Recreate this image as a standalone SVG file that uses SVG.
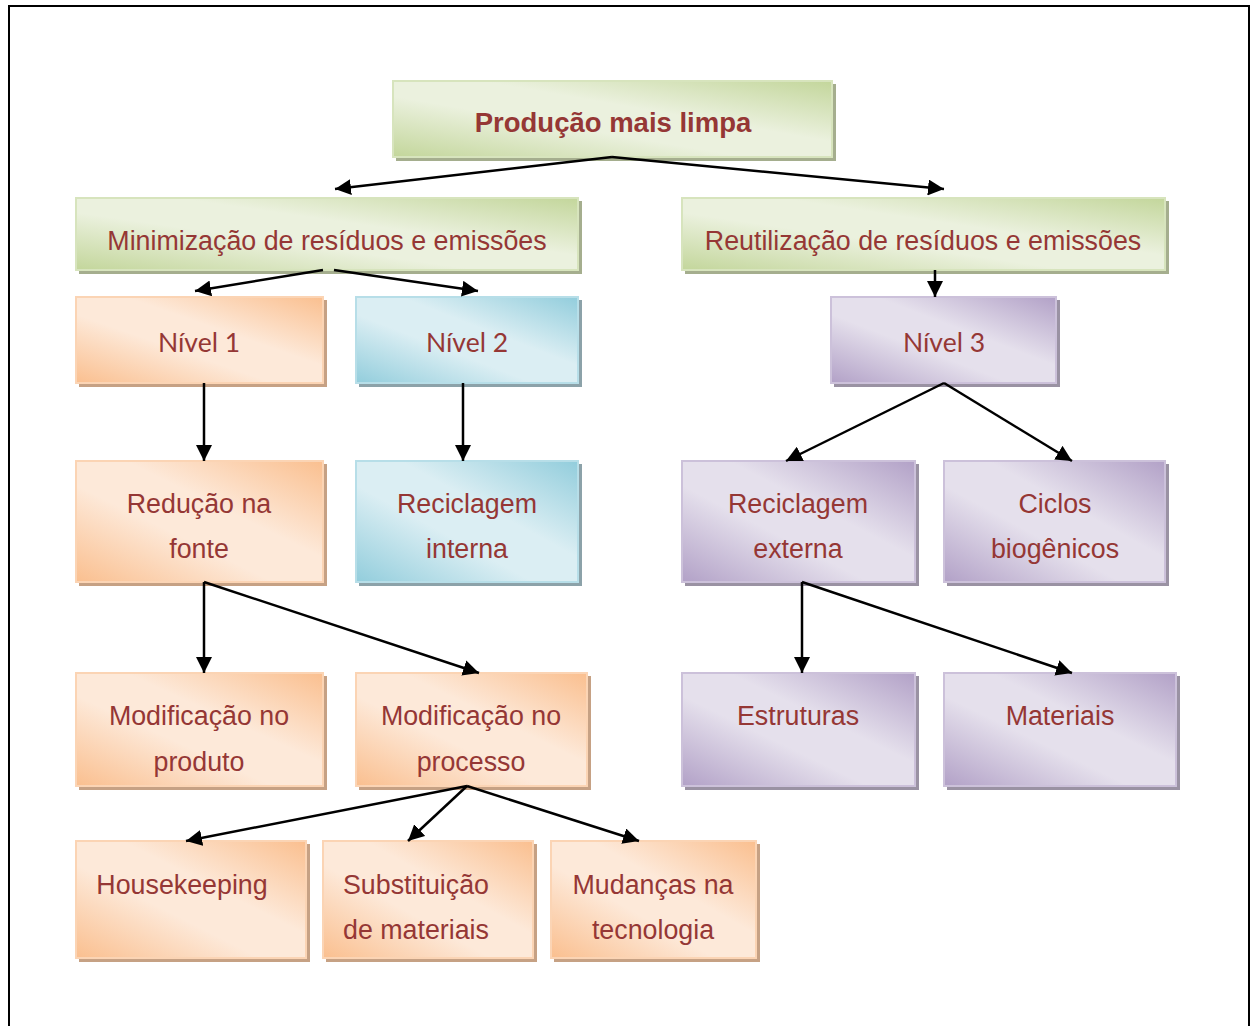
<svg xmlns="http://www.w3.org/2000/svg" width="1251" height="1026" viewBox="0 0 1251 1026">
  <defs>
    <linearGradient id="gGreen" x1="1" y1="0" x2="0" y2="1">
      <stop offset="0" stop-color="#c3d69b"/>
      <stop offset="0.4" stop-color="#ebf1de"/>
      <stop offset="0.6" stop-color="#ebf1de"/>
      <stop offset="1" stop-color="#c3d69b"/>
    </linearGradient>
    <linearGradient id="gOrange" x1="1" y1="0" x2="0" y2="1">
      <stop offset="0" stop-color="#fabf8f"/>
      <stop offset="0.4" stop-color="#fde9d9"/>
      <stop offset="0.6" stop-color="#fde9d9"/>
      <stop offset="1" stop-color="#fabf8f"/>
    </linearGradient>
    <linearGradient id="gBlue" x1="1" y1="0" x2="0" y2="1">
      <stop offset="0" stop-color="#92cddc"/>
      <stop offset="0.4" stop-color="#dbeef3"/>
      <stop offset="0.6" stop-color="#dbeef3"/>
      <stop offset="1" stop-color="#92cddc"/>
    </linearGradient>
    <linearGradient id="gPurple" x1="1" y1="0" x2="0" y2="1">
      <stop offset="0" stop-color="#b2a1c7"/>
      <stop offset="0.4" stop-color="#e5e0ec"/>
      <stop offset="0.6" stop-color="#e5e0ec"/>
      <stop offset="1" stop-color="#b2a1c7"/>
    </linearGradient>
    <marker id="arrow" viewBox="0 0 16 16" refX="16" refY="8" markerWidth="16" markerHeight="16" markerUnits="userSpaceOnUse" orient="auto">
      <path d="M0,0 L16,8 L0,16 Z" fill="#000"/>
    </marker>
  </defs>
  <style>
    .t { font-family: "Liberation Sans", Arial, sans-serif; font-size: 26.8px; fill: #953735; text-anchor: middle; }
    .c { font-family: Lato, "Noto Sans", sans-serif; font-size: 26.5px; fill: #953735; text-anchor: middle; }
    .b { font-weight: bold; font-size: 27.5px; }
    .green .box { fill: url(#gGreen); stroke: #d7e4bd; }
    .green .sh { fill: #a5ae8e; }
    .orange .box { fill: url(#gOrange); stroke: #fbd4b4; }
    .orange .sh { fill: #c6a184; }
    .blue .box { fill: url(#gBlue); stroke: #b7dee8; }
    .blue .sh { fill: #8ca2a9; }
    .purple .box { fill: url(#gPurple); stroke: #ccc1da; }
    .purple .sh { fill: #9a92a3; }
    .box { stroke-width: 2; }
    .link { stroke: #000; stroke-width: 2.5; fill: none; marker-end: url(#arrow); }
  </style>

  <rect width="1251" height="1026" fill="#fff"/>
  <!-- page frame -->
  <path d="M9,1026 V6 H1249 V1026" fill="none" stroke="#000" stroke-width="2"/>

  <g id="producao" class="green">
    <rect class="sh" x="396" y="84" width="440" height="77"/>
    <rect class="box" x="393" y="81" width="439" height="76"/>
    <text class="t b" x="613" y="132">Produção mais limpa</text>
  </g>

  <g id="minimizacao" class="green">
    <rect class="sh" x="79" y="201" width="503" height="73"/>
    <rect class="box" x="76" y="198" width="502" height="72"/>
    <text class="t" x="327" y="250">Minimização de resíduos e emissões</text>
  </g>

  <g id="reutilizacao" class="green">
    <rect class="sh" x="685" y="201" width="484" height="73"/>
    <rect class="box" x="682" y="198" width="483" height="72"/>
    <text class="t" x="923" y="250">Reutilização de resíduos e emissões</text>
  </g>

  <g id="nivel1" class="orange">
    <rect class="sh" x="79" y="300" width="248" height="87"/>
    <rect class="box" x="76" y="297" width="247" height="86"/>
    <text class="c" x="199" y="352">Nível 1</text>
  </g>

  <g id="nivel2" class="blue">
    <rect class="sh" x="359" y="300" width="223" height="87"/>
    <rect class="box" x="356" y="297" width="222" height="86"/>
    <text class="c" x="467" y="352">Nível 2</text>
  </g>

  <g id="nivel3" class="purple">
    <rect class="sh" x="834" y="300" width="226" height="87"/>
    <rect class="box" x="831" y="297" width="225" height="86"/>
    <text class="c" x="944" y="352">Nível 3</text>
  </g>

  <g id="reducao" class="orange">
    <rect class="sh" x="79" y="464" width="248" height="122"/>
    <rect class="box" x="76" y="461" width="247" height="121"/>
    <text class="t" x="199" y="513">Redução na</text>
    <text class="t" x="199" y="558">fonte</text>
  </g>

  <g id="reciclagem-interna" class="blue">
    <rect class="sh" x="359" y="464" width="223" height="122"/>
    <rect class="box" x="356" y="461" width="222" height="121"/>
    <text class="t" x="467" y="513">Reciclagem</text>
    <text class="t" x="467" y="558">interna</text>
  </g>

  <g id="reciclagem-externa" class="purple">
    <rect class="sh" x="685" y="464" width="234" height="122"/>
    <rect class="box" x="682" y="461" width="233" height="121"/>
    <text class="t" x="798" y="513">Reciclagem</text>
    <text class="t" x="798" y="558">externa</text>
  </g>

  <g id="ciclos" class="purple">
    <rect class="sh" x="947" y="464" width="222" height="122"/>
    <rect class="box" x="944" y="461" width="221" height="121"/>
    <text class="t" x="1055" y="513">Ciclos</text>
    <text class="t" x="1055" y="558">biogênicos</text>
  </g>

  <g id="mod-produto" class="orange">
    <rect class="sh" x="79" y="676" width="248" height="114"/>
    <rect class="box" x="76" y="673" width="247" height="113"/>
    <text class="t" x="199" y="725">Modificação no</text>
    <text class="t" x="199" y="771">produto</text>
  </g>

  <g id="mod-processo" class="orange">
    <rect class="sh" x="359" y="676" width="232" height="114"/>
    <rect class="box" x="356" y="673" width="231" height="113"/>
    <text class="t" x="471" y="725">Modificação no</text>
    <text class="t" x="471" y="771">processo</text>
  </g>

  <g id="estruturas" class="purple">
    <rect class="sh" x="685" y="676" width="234" height="114"/>
    <rect class="box" x="682" y="673" width="233" height="113"/>
    <text class="t" x="798" y="725">Estruturas</text>
  </g>

  <g id="materiais" class="purple">
    <rect class="sh" x="947" y="676" width="233" height="114"/>
    <rect class="box" x="944" y="673" width="232" height="113"/>
    <text class="t" x="1060" y="725">Materiais</text>
  </g>

  <g id="housekeeping" class="orange">
    <rect class="sh" x="79" y="844" width="231" height="118"/>
    <rect class="box" x="76" y="841" width="230" height="117"/>
    <text class="t" x="182" y="894">Housekeeping</text>
  </g>

  <g id="substituicao" class="orange">
    <rect class="sh" x="326" y="844" width="211" height="118"/>
    <rect class="box" x="323" y="841" width="210" height="117"/>
    <text class="t" x="416" y="894">Substituição</text>
    <text class="t" x="416" y="939">de materiais</text>
  </g>

  <g id="mudancas" class="orange">
    <rect class="sh" x="554" y="844" width="206" height="118"/>
    <rect class="box" x="551" y="841" width="205" height="117"/>
    <text class="t" x="653" y="894">Mudanças na</text>
    <text class="t" x="653" y="939">tecnologia</text>
  </g>

  <g id="connectors">
    <line class="link" x1="612" y1="157" x2="335" y2="189"/>
    <line class="link" x1="612" y1="157" x2="944" y2="189"/>
    <line class="link" x1="323" y1="270" x2="195" y2="291"/>
    <line class="link" x1="334" y1="270" x2="478" y2="291"/>
    <line class="link" x1="935" y1="270" x2="935" y2="297"/>
    <line class="link" x1="204" y1="383" x2="204" y2="461"/>
    <line class="link" x1="463" y1="383" x2="463" y2="461"/>
    <line class="link" x1="944" y1="383" x2="786" y2="461"/>
    <line class="link" x1="944" y1="383" x2="1072" y2="461"/>
    <line class="link" x1="204" y1="582" x2="204" y2="673"/>
    <line class="link" x1="204" y1="582" x2="479" y2="673"/>
    <line class="link" x1="802" y1="582" x2="802" y2="673"/>
    <line class="link" x1="802" y1="582" x2="1072" y2="673"/>
    <line class="link" x1="467" y1="786" x2="186" y2="841"/>
    <line class="link" x1="467" y1="786" x2="408" y2="841"/>
    <line class="link" x1="467" y1="786" x2="639" y2="841"/>
  </g>
</svg>
